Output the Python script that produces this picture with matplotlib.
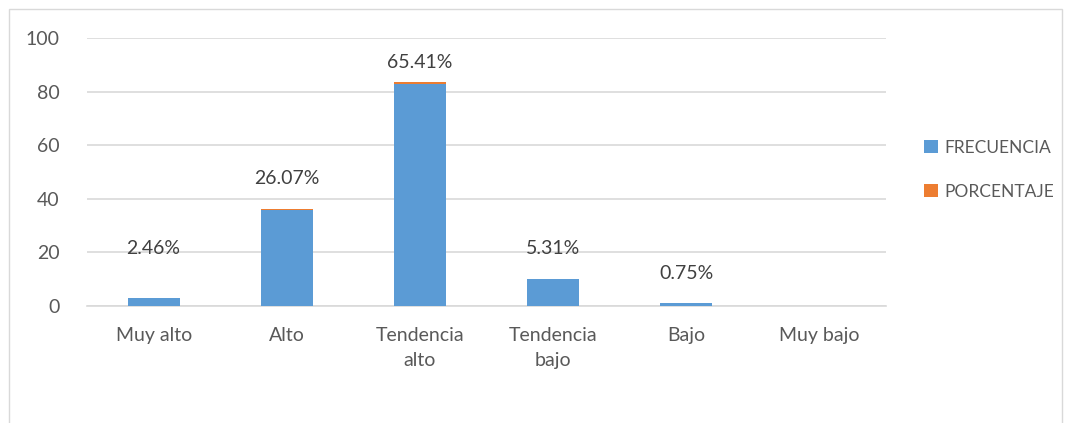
import matplotlib.pyplot as plt
import numpy as np
from matplotlib.patches import Rectangle

plt.rcParams['font.family'] = ['Lato', 'DejaVu Sans']

# datos
categorias = ['Muy alto', 'Alto', 'Tendencia\nalto', 'Tendencia\nbajo', 'Bajo', 'Muy bajo']
frecuencia = [3, 36, 83, 10, 1, 0]
porcentaje = [0.0246, 0.2607, 0.6541, 0.0531, 0.0075, 0.0]
etiquetas = ['2.46%', '26.07%', '65.41%', '5.31%', '0.75%', '']
etiqueta_y = [21.3, 47.4, 90.7, 21.3, 12.3, 0]

azul = '#5B9BD5'
naranja = '#ED7D31'
texto = '#595959'
fs = 14

fig = plt.figure(figsize=(10.76, 4.23), dpi=100)
ax = fig.add_axes([0.0809, 0.2766, 0.8234 - 0.0809, 0.9102 - 0.2766])

x = np.arange(len(categorias))
width = 0.39
ax.bar(x, frecuencia, width, color=azul, label='FRECUENCIA', zorder=3)
ax.bar(x, porcentaje, width, bottom=frecuencia, color=naranja, label='PORCENTAJE', zorder=3)

for i, lab in enumerate(etiquetas):
    if lab:
        ax.text(x[i], etiqueta_y[i], lab, ha='center', va='center', fontsize=fs, color='#404040', zorder=4)

ax.set_xlim(-0.5, len(categorias) - 0.5)
ax.set_ylim(0, 100)
ax.set_yticks([0, 20, 40, 60, 80, 100])
ax.set_xticks(x)
ax.set_xticklabels(categorias, fontsize=fs, color=texto, linespacing=1.6)
ax.tick_params(axis='y', labelsize=fs, colors=texto, length=0, pad=20)
ax.tick_params(axis='x', length=0, pad=15)
ax.grid(axis='y', color='#D9D9D9', linewidth=1.2, zorder=0)
for s in ['top', 'right', 'left']:
    ax.spines[s].set_visible(False)
ax.spines['bottom'].set_color('#D9D9D9')
ax.spines['bottom'].set_linewidth(1.2)

ax.legend(loc='upper left', bbox_to_anchor=(0.851, 0.69), bbox_transform=fig.transFigure,
          frameon=False, fontsize=12.5, labelcolor=texto, handlelength=0.8, handleheight=0.8,
          handletextpad=0.35, labelspacing=1.6, borderpad=0)

# borde del gráfico
fig.patches.append(Rectangle((9 / 1076, -0.05), (1062 - 9) / 1076, 1 - 9 / 423 + 0.05,
                             transform=fig.transFigure, fill=False, edgecolor='#D9D9D9', linewidth=1))

plt.savefig('out.png', dpi=100)
plt.close()
